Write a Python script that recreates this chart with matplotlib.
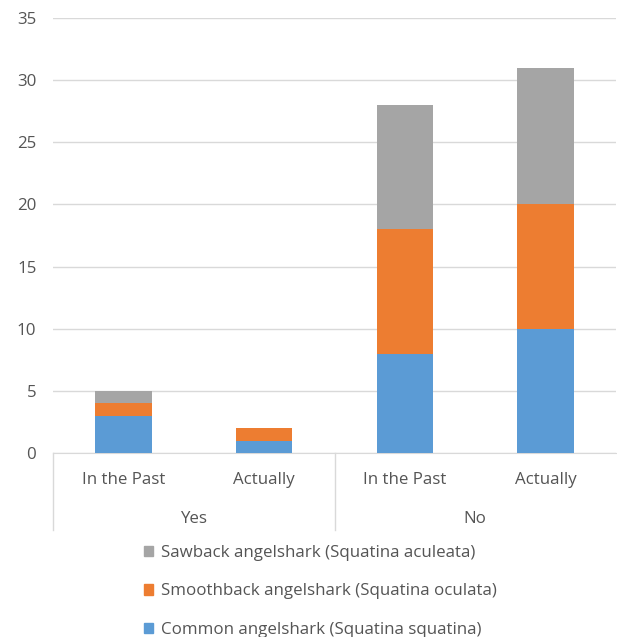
import matplotlib.pyplot as plt
from matplotlib.lines import Line2D
from matplotlib.patches import Patch

# categories (two-level axis: answer group / period)
groups = ["Yes", "No"]
periods = ["In the Past", "Actually", "In the Past", "Actually"]

# counts per species, one value per period column
common = [3, 1, 8, 10]
smoothback = [1, 1, 10, 10]
sawback = [1, 0, 10, 11]

species = [
    ("Common angelshark (Squatina squatina)", common, "#5b9bd5"),
    ("Smoothback angelshark (Squatina oculata)", smoothback, "#ed7d31"),
    ("Sawback angelshark (Squatina aculeata)", sawback, "#a5a5a5"),
]

plt.rcParams["font.family"] = ["Open Sans", "DejaVu Sans"]
text_col = "#555555"
grid_col = "#d9d9d9"
fs = 12.2

fig = plt.figure(figsize=(6.17, 6.37), dpi=100)
ax = fig.add_axes([53 / 617, 1 - 453 / 637, 563 / 617, 435 / 637])

x = list(range(len(periods)))
bottom = [0] * len(periods)
for name, vals, col in species:
    ax.bar(x, vals, width=0.4, bottom=bottom, color=col, label=name, zorder=3)
    bottom = [b + v for b, v in zip(bottom, vals)]

ax.set_xlim(-0.5, 3.5)
ax.set_ylim(0, 35)
ax.set_yticks(range(0, 36, 5))
ax.yaxis.grid(True, color=grid_col, linewidth=1, zorder=0)
ax.set_xticks(x)
ax.set_xticklabels(periods)
ax.tick_params(length=0, labelsize=fs, colors=text_col)
ax.tick_params(axis="y", pad=12)
ax.tick_params(axis="x", pad=13.5)
for side in ["left", "right", "top"]:
    ax.spines[side].set_visible(False)
ax.spines["bottom"].set_color(grid_col)

# group labels and separators below the axis
trans = ax.get_xaxis_transform()
px = 1 / 435
for i, g in enumerate(groups):
    ax.text(2 * i + 0.5, -66 * px, g, transform=trans, ha="center", va="center",
            fontsize=fs, color=text_col)
for sep in [-0.5, 1.5]:
    ax.add_line(Line2D([sep, sep], [0, -77 * px], transform=trans, color=grid_col,
                       linewidth=1, clip_on=False))

# legend, top entry is the top of the stack
handles = [Patch(color=col, label=name) for name, vals, col in reversed(species)]
fig.legend(handles=handles, loc="upper left", bbox_to_anchor=(132 / 617, 1 - 533 / 637),
           frameon=False, fontsize=fs, labelcolor=text_col, handlelength=0.55,
           handleheight=0.55, handletextpad=0.45, labelspacing=1.33,
           borderaxespad=0.3)

fig.savefig("out.png", dpi=100)
